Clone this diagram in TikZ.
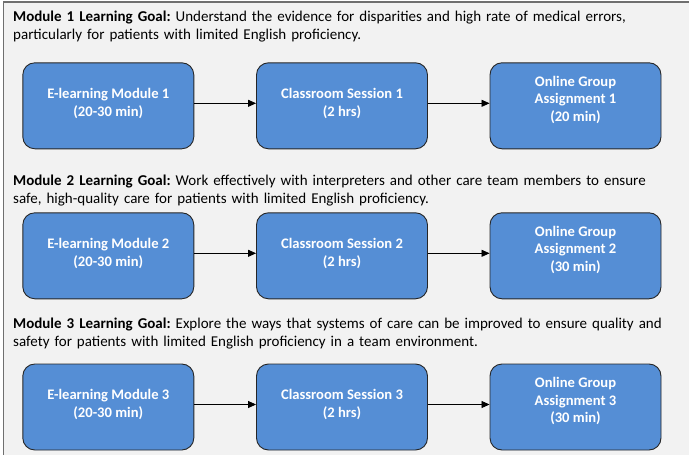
\documentclass[tikz,border=0pt]{standalone}
\usepackage{fontspec}
\setmainfont{Carlito}
\usetikzlibrary{arrows.meta}
\definecolor{panel}{HTML}{F2F2F2}
\definecolor{framegray}{HTML}{6F6F6F}
\definecolor{stepblue}{HTML}{558ED5}
\frenchspacing
\begin{document}
\begin{tikzpicture}[x=1pt,y=-1pt,
  stagebox/.style={draw=black!85, line width=0.9pt, fill=stepblue, rounded corners=12pt,
    minimum width=171pt, minimum height=86pt, inner sep=0pt},
  stagetext/.style={text=white, font=\fontsize{14.6}{17.5}\selectfont\bfseries, align=center, inner sep=0pt},
  goal/.style={anchor=base west, align=left, font=\fontsize{15}{18}\selectfont, inner sep=0pt, text width=675pt},
  flow/.style={-{Triangle[length=8pt,width=7pt]}, line width=0.8pt}]
  \useasboundingbox (0,0) rectangle (689,455);
  \fill[white] (0,0) rectangle (689,455);
  % panel with its frame on the left and top
  \fill[panel] (3.5,2) rectangle (689,455);
  \draw[framegray, line width=1.4pt] (3.5,456) -- (3.5,2) -- (690,2);

  % learning goals
  \node[goal] (g1) at (13,21.5) {\textbf{Module 1 Learning Goal:} Understand the evidence for disparities and high rate of medical errors,\\particularly for patients with limited English proficiency.};
  \node[goal] (g2) at (13,185) {\textbf{Module 2 Learning Goal:} Work effectively with interpreters and other care team members to ensure\\safe, high-quality care for patients with limited English proficiency.};
  \node[goal] (g3) at (13,328.5) {\textbf{Module 3 Learning Goal:} Explore the ways that systems of care can be improved to ensure quality and\\safety for patients with limited English proficiency in a team environment.};

  % module 1 row
  \node[stagebox] (e1) at (108.3,105.8) {};
  \node[stagebox] (c1) at (342,105.8) {};
  \node[stagebox] (o1) at (575.5,105.8) {};
  \node[stagetext] (e1t) at ([yshift=2.5pt]e1.center) {E-learning Module 1\\(20-30 min)};
  \node[stagetext] (c1t) at ([yshift=2.5pt]c1.center) {Classroom Session 1\\(2 hrs)};
  \node[stagetext] (o1t) at ([yshift=6pt]o1.center) {Online Group\\Assignment 1\\(20 min)};
  \draw[flow] ([yshift=2.5pt]e1.east) -- ([yshift=2.5pt]c1.west);
  \draw[flow] ([yshift=2.5pt]c1.east) -- ([yshift=2.5pt]o1.west);

  % module 2 row
  \node[stagebox] (e2) at (108.3,255.8) {};
  \node[stagebox] (c2) at (342,255.8) {};
  \node[stagebox] (o2) at (575.5,255.8) {};
  \node[stagetext] (e2t) at ([yshift=2.5pt]e2.center) {E-learning Module 2\\(20-30 min)};
  \node[stagetext] (c2t) at ([yshift=2.5pt]c2.center) {Classroom Session 2\\(2 hrs)};
  \node[stagetext] (o2t) at ([yshift=6pt]o2.center) {Online Group\\Assignment 2\\(30 min)};
  \draw[flow] ([yshift=2.5pt]e2.east) -- ([yshift=2.5pt]c2.west);
  \draw[flow] ([yshift=2.5pt]c2.east) -- ([yshift=2.5pt]o2.west);

  % module 3 row
  \node[stagebox] (e3) at (108.3,407) {};
  \node[stagebox] (c3) at (342,407) {};
  \node[stagebox] (o3) at (575.5,407) {};
  \node[stagetext] (e3t) at ([yshift=2.5pt]e3.center) {E-learning Module 3\\(20-30 min)};
  \node[stagetext] (c3t) at ([yshift=2.5pt]c3.center) {Classroom Session 3\\(2 hrs)};
  \node[stagetext] (o3t) at ([yshift=6pt]o3.center) {Online Group\\Assignment 3\\(30 min)};
  \draw[flow] ([yshift=2.5pt]e3.east) -- ([yshift=2.5pt]c3.west);
  \draw[flow] ([yshift=2.5pt]c3.east) -- ([yshift=2.5pt]o3.west);
\end{tikzpicture}
\end{document}
